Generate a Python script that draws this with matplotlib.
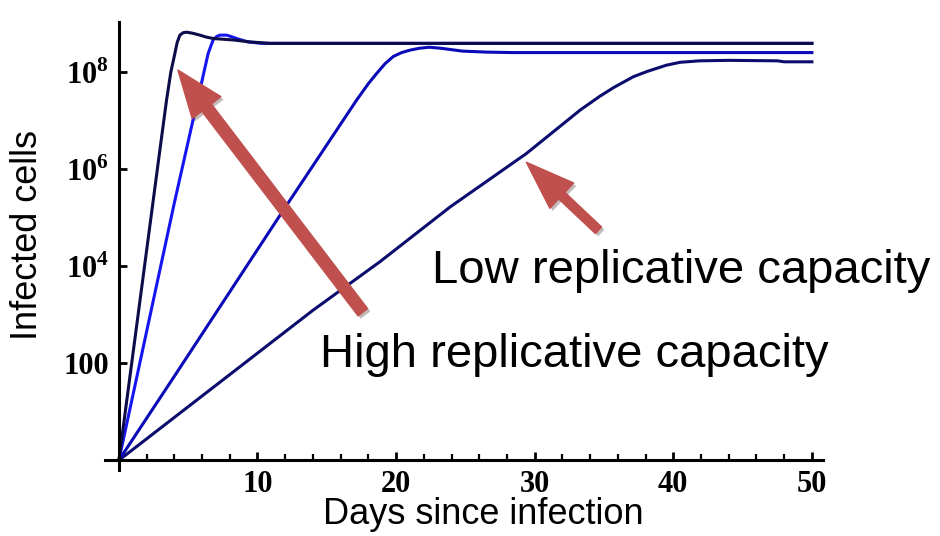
import matplotlib
matplotlib.use("Agg")
import matplotlib.pyplot as plt
import matplotlib.patheffects as pe
import numpy as np

plt.rcParams['font.family'] = ['Liberation Sans', 'DejaVu Sans']
plt.rcParams['mathtext.fontset'] = 'custom'
plt.rcParams['mathtext.rm'] = 'Liberation Serif:bold'
plt.rcParams['mathtext.bf'] = 'Liberation Serif:bold'

# infected cells (log10), one curve per replicative capacity
days_a = [0, 1, 2, 3, 3.44, 3.75, 4.04, 4.2, 4.4, 4.65, 4.88, 5.3, 5.84, 6.3, 6.8, 8.25, 9.45, 10.9, 50]
logv_a = [0, 2.16, 4.32, 6.48, 7.42, 8.0, 8.38, 8.6, 8.76, 8.81, 8.82, 8.8, 8.76, 8.72, 8.69, 8.66, 8.62, 8.59, 8.59]

days_b = [0, 2, 4, 5.5, 5.96, 6.44, 6.8, 7.05, 7.29, 7.77, 8.1, 8.49, 9.3, 10.3, 50]
logv_b = [0, 2.65, 5.3, 7.2, 7.77, 8.38, 8.66, 8.73, 8.76, 8.76, 8.73, 8.69, 8.62, 8.59, 8.59]

days_c = [0, 4, 8, 11.86, 14.75, 17.15, 18.0, 18.6, 19.2, 19.8, 20.4, 21.0, 21.7, 22.4, 23.2, 24.8, 26.5, 28.4, 50]
logv_c = [0, 1.73, 3.47, 5.15, 6.39, 7.42, 7.76, 7.97, 8.17, 8.32, 8.4, 8.45, 8.49, 8.51, 8.49, 8.43, 8.41, 8.4, 8.4]

days_d = [0, 14, 18.83, 23.9, 29.4, 33.3, 34.7, 35.7, 37.1, 38.1, 39.5, 40.5, 41.9, 44, 47.5, 48, 50]
logv_d = [0, 3.09, 4.09, 5.22, 6.32, 7.22, 7.5, 7.68, 7.9, 8.01, 8.14, 8.2, 8.23, 8.24, 8.23, 8.21, 8.21]

xticks = [10, 20, 30, 40, 50]
yticks = [1e2, 1e4, 1e6, 1e8]
ytick_labels = ['100', r'$10^{4}$', r'$10^{6}$', r'$10^{8}$']

fig = plt.figure(figsize=(9.4, 5.36), dpi=100)
ax = fig.add_axes([105 / 940, 66 / 536, 718 / 940, 448 / 536])

ax.plot(days_d, 10 ** np.array(logv_d), color='#0c0c6e', lw=2.2)
ax.plot(days_c, 10 ** np.array(logv_c), color='#0a0ab8', lw=2.2)
ax.plot(days_b, 10 ** np.array(logv_b), color='#1515f0', lw=2.2)
ax.plot(days_a, 10 ** np.array(logv_a), color='#0c0c4a', lw=2.2)

ax.set_yscale('log')
ax.set_xlim(-1.0, 50.8)
ax.set_ylim(10 ** -0.2, 10 ** 9.03)

for s in ['top', 'right']:
    ax.spines[s].set_visible(False)
ax.spines['left'].set_position(('data', 0))
ax.spines['bottom'].set_position(('data', 1))
ax.spines['left'].set_linewidth(2.2)
ax.spines['bottom'].set_linewidth(2.2)

ax.set_xticks(xticks)
ax.set_xticks(np.arange(2, 51, 2), minor=True)
ax.set_yticks(yticks)
ax.set_yticklabels(ytick_labels)
ax.yaxis.set_minor_locator(matplotlib.ticker.NullLocator())
ax.tick_params(axis='both', which='major', direction='in', length=6, width=2, pad=7,
               labelsize=22)
ax.tick_params(axis='x', which='minor', direction='in', length=4, width=1.6)
for lab in ax.get_xticklabels() + ax.get_yticklabels():
    lab.set_fontfamily('Liberation Serif')
    lab.set_fontweight('bold')

fig.text(28 / 940, 1 - 235 / 536, 'Infected cells', rotation=90, fontsize=26,
         ha='center', va='center')
fig.text(483 / 940, 1 - 515 / 536, 'Days since infection', fontsize=26,
         ha='center', va='center')

fig.text(432 / 940, 1 - 283 / 536, 'Low replicative capacity', fontsize=34,
         ha='left', va='baseline')
fig.text(320 / 940, 1 - 367 / 536, 'High replicative capacity', fontsize=34,
         ha='left', va='baseline')

shadow = [pe.SimplePatchShadow(offset=(2, -2), alpha=0.3), pe.Normal()]
arr_hi = ax.annotate('', xy=(4.26, 10 ** 8.04), xytext=(17.6, 10 ** 3.05),
                     arrowprops=dict(arrowstyle='simple,head_length=34,head_width=26,tail_width=8.6',
                                     mutation_scale=1, color='#c0504d', shrinkA=0, shrinkB=0))
arr_lo = ax.annotate('', xy=(29.4, 10 ** 6.14), xytext=(34.6, 10 ** 4.74),
                     arrowprops=dict(arrowstyle='simple,head_length=35,head_width=25,tail_width=6.5',
                                     mutation_scale=1, color='#c0504d', shrinkA=0, shrinkB=0))
arr_hi.arrow_patch.set_path_effects(shadow)
arr_lo.arrow_patch.set_path_effects(shadow)

fig.savefig('out.png', dpi=100)
